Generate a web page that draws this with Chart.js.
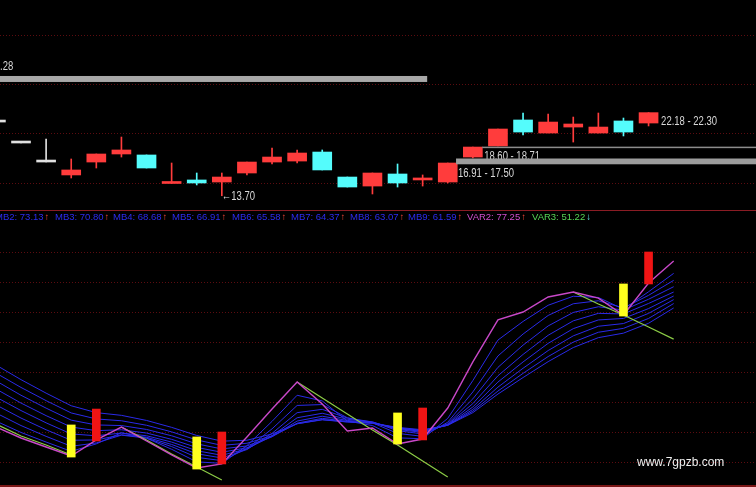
<!DOCTYPE html>
<html lang="zh">
<head>
<meta charset="UTF-8">
<title>K线 MB 指标</title>
<script src="https://cdn.jsdelivr.net/npm/chart.js"></script>
<style>
    html, body { margin: 0; padding: 0; background: #000; }
    #wrap {
        position: relative;
        width: 756px;
        height: 487px;
        overflow: hidden;
        background: #000;
        font-family: "Liberation Sans", Arial, sans-serif;
    }
    #kline { position: absolute; left: 0; top: 0; }
    #ind { position: absolute; left: 0; top: 210px; }
    .sep { position: absolute; left: 0; width: 756px; background: #8a1c24; }
    #legend span.item {
        position: absolute;
        top: 211px;
        font-size: 9.5px;
        line-height: 12px;
        white-space: nowrap;
    }
    #mark {
        position: absolute;
        left: 637px;
        top: 455px;
        font-size: 12px;
        color: #f0f0f0;
    }
</style>
</head>
<body>
<div id="wrap">
    <canvas id="kline" width="756" height="210"></canvas>
    <canvas id="ind" width="756" height="277"></canvas>
    <div class="sep" style="top:210px;height:1px;"></div>
    <div class="sep" style="top:485px;height:2px;background:#7a1616;"></div>
    <div id="legend"></div>
    <div id="mark">www.7gpzb.com</div>
</div>

<script>
    // ---- candles (bar number, OHLC) ----
    const barN  = [0, 1, 2, 3, 4, 5, 6, 7, 8, 9, 10, 11, 12, 13, 14, 15, 16, 17, 18, 19, 20, 21, 22, 23, 24, 25, 26];
    const open  = [21.22, 19.08, 17.14, 15.82, 17.14, 17.96, 17.86, 14.95, 15.31, 15.10, 16.02, 17.14, 17.24, 18.16,
                   15.61, 14.69, 15.92, 15.31, 15.10, 17.65, 18.78, 21.43, 20.10, 20.71, 20.10, 21.33, 21.12];
    const close = [21.22, 19.08, 17.14, 16.33, 17.96, 18.37, 16.53, 15.00, 15.00, 15.61, 17.14, 17.65, 18.06, 16.33,
                   14.59, 16.02, 15.00, 15.51, 17.04, 18.67, 20.51, 20.20, 21.22, 21.02, 20.71, 20.20, 22.18];
    const high  = [21.22, 19.08, 19.49, 17.45, 17.96, 19.69, 17.86, 17.04, 16.02, 16.02, 17.14, 18.57, 18.37, 18.37,
                   15.61, 16.02, 16.94, 15.82, 17.04, 18.67, 20.51, 22.14, 22.04, 21.73, 22.14, 21.63, 22.18];
    const low   = [21.22, 19.08, 17.14, 15.51, 16.53, 17.65, 16.53, 14.95, 14.80, 13.70, 15.82, 16.94, 17.04, 16.33,
                   14.59, 13.88, 14.59, 14.69, 15.00, 17.55, 18.78, 19.90, 20.10, 19.18, 20.10, 19.80, 20.82];
    const priceGrid = [15, 20, 25, 30];

    // price zones
    const zoneLow   = [25.31, 16.91, 18.60, 22.18];
    const zoneHigh  = [25.92, 17.50, 18.71, 22.30];
    const zoneFrom  = [0, 18.33, 19.37, 26.42];
    const zoneTo    = [17.18, 31, 31, 26.42];
    const zoneLabel = [false, true, true, true];
    const lowMarkN = 9, lowMark = 13.70;
    const cutLabel = '.28', cutLabelPrice = 26.84;

    // ---- indicator (bar number 0..27) ----
    const indN = [0, 1, 2, 3, 4, 5, 6, 7, 8, 9, 10, 11, 12, 13, 14, 15, 16, 17, 18, 19, 20, 21, 22, 23, 24, 25, 26, 27];
    const var2 = [21.9, 18.25, 15.25, 12.25, 17.6, 21.9, 17.25, 12.6, 8.25, 9.6, 18.6, 27.9, 36.9, 29.6,
                  20.6, 21.6, 16.25, 17.9, 28.25, 43.6, 57.6, 60.25, 65.25, 66.9, 64.9, 59.25, 69.9, 77.25];
    const var3 = [22.9, 18.9, 15.9, 12.6, null, 21.9, 17.6, 12.9, 8.6, 4.25, null, null, 36.9, 31.6,
                  26.25, 20.9, 15.9, 10.6, 5.25, null, null, null, null, 66.9, 62.9, 59.25, 55.25, 51.22];
    const mb2 = [23.9, 20.1, 16.9, 13.8, 16.3, 20.0, 18.2, 14.5, 10.3, 9.8, 15.7, 23.8, 32.5, 30.6,
                 23.9, 22.4, 18.3, 18.0, 24.8, 37.4, 50.9, 57.1, 62.5, 65.5, 65.1, 61.2, 67.0, 73.13];
    const mb3 = [26.6, 22.4, 18.8, 15.5, 16.6, 19.2, 18.2, 15.4, 11.8, 10.7, 14.7, 21.3, 29.1, 29.4,
                 25.0, 23.3, 19.8, 18.8, 23.5, 33.6, 45.6, 52.9, 59.1, 63.0, 64.0, 61.6, 65.8, 70.80];
    const mb4 = [29.3, 24.9, 21.0, 17.5, 17.6, 19.3, 18.5, 16.1, 13.0, 11.6, 14.4, 19.8, 26.7, 27.8,
                 24.9, 23.6, 20.7, 19.6, 23.0, 31.3, 41.8, 49.2, 55.6, 60.1, 62.0, 60.9, 64.5, 68.68];
    const mb5 = [31.9, 27.4, 23.3, 19.6, 19.0, 19.9, 19.0, 16.9, 14.0, 12.5, 14.6, 19.0, 25.0, 26.5,
                 24.5, 23.6, 21.1, 20.1, 22.8, 29.7, 39.0, 46.1, 52.5, 57.3, 59.8, 59.6, 63.1, 66.91];
    const mb6 = [34.6, 29.9, 25.7, 21.9, 20.7, 21.0, 19.9, 17.8, 15.1, 13.5, 15.0, 18.7, 23.9, 25.5,
                 24.1, 23.4, 21.4, 20.4, 22.6, 28.6, 36.9, 43.6, 49.8, 54.7, 57.6, 58.1, 61.4, 65.58];
    const mb7 = [37.3, 32.5, 28.2, 24.2, 22.6, 22.4, 21.1, 19.0, 16.3, 14.6, 15.6, 18.7, 23.2, 24.8,
                 23.8, 23.2, 21.5, 20.6, 22.5, 27.8, 35.2, 41.5, 47.4, 52.3, 55.5, 56.4, 59.8, 64.37];
    const mb8 = [39.9, 35.1, 30.7, 26.6, 24.6, 24.0, 22.5, 20.3, 17.6, 15.8, 16.5, 19.0, 23.0, 24.4,
                 23.6, 23.2, 21.6, 20.8, 22.5, 27.2, 33.9, 39.8, 45.4, 50.2, 53.5, 54.8, 58.1, 63.07];
    const mb9 = [42.6, 37.7, 33.2, 29.0, 26.7, 25.8, 24.1, 21.8, 19.1, 17.2, 17.5, 19.6, 23.0, 24.3,
                 23.6, 23.2, 21.8, 21.0, 22.5, 26.7, 32.9, 38.4, 43.7, 48.4, 51.7, 53.2, 56.5, 61.59];
    const yellowN = [3, 8, 16, 25];
    const yellowLow  = [11.9, 7.9, 16.25, 58.9];
    const yellowHigh = [22.6, 18.6, 26.6, 69.6];
    const redN = [4, 9, 17, 26];
    const redLow  = [17.25, 9.6, 17.6, 69.6];
    const redHigh = [27.9, 20.25, 28.25, 80.25];
    const indGrid = [10, 20, 30, 40, 50, 60, 70, 80];

    const xMin = 0.163, xMax = 30.28;

    Chart.defaults.font.family = '"Liberation Sans", Arial, sans-serif';

    function candleColor(i) {
        if (close[i] > open[i]) return '#ff3c3c';
        if (close[i] < open[i]) return '#54fcfc';
        return '#e0e0e0';
    }
    const candleColors = barN.map((n, i) => candleColor(i));

    function gridAxis(min, max, values) {
        return {
            min: min, max: max,
            afterBuildTicks: s => { s.ticks = values.map(v => ({ value: v })); },
            ticks: { display: false },
            grid: { color: '#5c0c10', lineWidth: 1, drawTicks: false },
            border: { display: false, dash: [1, 2] }
        };
    }

    const barAxis = { type: 'linear', min: xMin, max: xMax, offset: false, display: false };

    function drawNarrow(ctx, text, x, y) {
        ctx.save();
        ctx.translate(x, y);
        ctx.scale(0.76, 1);
        ctx.fillText(text, 0, 0);
        ctx.restore();
    }

    const zonePlugin = {
        id: 'zones',
        afterDatasetsDraw(chart) {
            const { ctx, scales: { x, y } } = chart;
            ctx.save();
            ctx.fillStyle = '#d8d8d8';
            ctx.font = '12.5px "Liberation Sans", Arial, sans-serif';
            ctx.textBaseline = 'alphabetic';
            zoneLow.forEach((lo, i) => {
                if (!zoneLabel[i]) return;
                drawNarrow(ctx, lo.toFixed(2) + ' - ' + zoneHigh[i].toFixed(2),
                    x.getPixelForValue(zoneFrom[i]) + 2, y.getPixelForValue(lo) + 12.5);
            });
            ctx.textBaseline = 'middle';
            drawNarrow(ctx, '\u2190' + lowMark.toFixed(2), x.getPixelForValue(lowMarkN), y.getPixelForValue(lowMark) + 1);
            drawNarrow(ctx, cutLabel, 0, y.getPixelForValue(cutLabelPrice));
            const barColors = ['#a8a8a8', '#9c9c9c', '#8c8c8c', '#8c8c8c'];
            zoneLow.forEach((lo, i) => {
                const x0 = x.getPixelForValue(zoneFrom[i]);
                const x1 = Math.min(x.getPixelForValue(zoneTo[i]), chart.width);
                if (x1 <= x0) return;
                const top = y.getPixelForValue(zoneHigh[i]);
                const h = Math.max(1.5, y.getPixelForValue(lo) - top);
                ctx.fillStyle = barColors[i];
                ctx.fillRect(x0, top, x1 - x0, h);
            });
            ctx.restore();
        }
    };

    new Chart(document.getElementById('kline'), {
        type: 'bar',
        data: {
            datasets: [
                {
                    data: barN.map((n, i) => ({ x: n, y: [open[i], close[i]] })),
                    backgroundColor: candleColors,
                    barThickness: 19,
                    minBarLength: 2,
                    grouped: false,
                    borderWidth: 0
                },
                {
                    data: barN.map((n, i) => ({ x: n, y: [low[i], high[i]] })),
                    backgroundColor: candleColors,
                    barThickness: 1,
                    grouped: false,
                    borderWidth: 0
                }
            ]
        },
        options: {
            responsive: false,
            devicePixelRatio: 1,
            animation: false,
            events: [],
            layout: { padding: 0 },
            plugins: { legend: { display: false }, tooltip: { enabled: false } },
            scales: {
                x: barAxis,
                y: gridAxis(12.245, 33.673, priceGrid)
            }
        },
        plugins: [zonePlugin]
    });

    const pts = arr => arr.map((v, i) => ({ x: indN[i], y: v }));
    const mbSeries = [mb2, mb3, mb4, mb5, mb6, mb7, mb8, mb9];
    const mbSets = mbSeries.map(s => ({
        type: 'line', data: pts(s), borderColor: '#2a2ae8', borderWidth: 1,
        pointRadius: 0, tension: 0
    }));

    new Chart(document.getElementById('ind'), {
        type: 'bar',
        data: {
            datasets: [
                {
                    data: yellowN.map((n, i) => ({ x: n, y: [yellowLow[i], yellowHigh[i]] })),
                    backgroundColor: '#ffff1e', barThickness: 8, grouped: false, borderWidth: 0
                },
                {
                    data: redN.map((n, i) => ({ x: n, y: [redLow[i], redHigh[i]] })),
                    backgroundColor: '#f01414', barThickness: 8, grouped: false, borderWidth: 0
                },
                {
                    type: 'line', data: pts(var2), borderColor: '#c848c8', borderWidth: 1.4,
                    pointRadius: 0, tension: 0
                },
                {
                    type: 'line', data: pts(var3), borderColor: '#8ccc46', borderWidth: 1.2,
                    pointRadius: 0, tension: 0, spanGaps: false
                },
                ...mbSets
            ]
        },
        options: {
            responsive: false,
            devicePixelRatio: 1,
            animation: false,
            events: [],
            layout: { padding: 0 },
            plugins: { legend: { display: false }, tooltip: { enabled: false } },
            scales: {
                x: barAxis,
                y: gridAxis(1.917, 94.25, indGrid)
            }
        }
    });

    // ---- legend line under the separator ----
    const legendNames = ['MB2', 'MB3', 'MB4', 'MB5', 'MB6', 'MB7', 'MB8', 'MB9', 'VAR2', 'VAR3'];
    const legendSeries = [mb2, mb3, mb4, mb5, mb6, mb7, mb8, mb9, var2, var3];
    const legendColors = ['#2c2cf0', '#2c2cf0', '#2c2cf0', '#2c2cf0', '#2c2cf0', '#2c2cf0', '#2c2cf0', '#2c2cf0', '#d050d0', '#56d656'];
    const legendX = [-5, 55, 113, 172, 232, 291, 350, 408, 467, 532];
    const legend = document.getElementById('legend');
    legendNames.forEach((name, i) => {
        const s = legendSeries[i];
        const last = s[s.length - 1], prev = s[s.length - 2];
        const up = last >= prev;
        const item = document.createElement('span');
        item.className = 'item';
        item.style.left = legendX[i] + 'px';
        item.style.color = legendColors[i];
        item.textContent = name + ': ' + last.toFixed(2);
        const arrow = document.createElement('span');
        arrow.textContent = up ? '\u2191' : '\u2193';
        arrow.style.color = up ? '#ff4a3a' : '#60e8e8';
        arrow.style.marginLeft = '1px';
        item.appendChild(arrow);
        legend.appendChild(item);
    });
</script>
</body>
</html>
